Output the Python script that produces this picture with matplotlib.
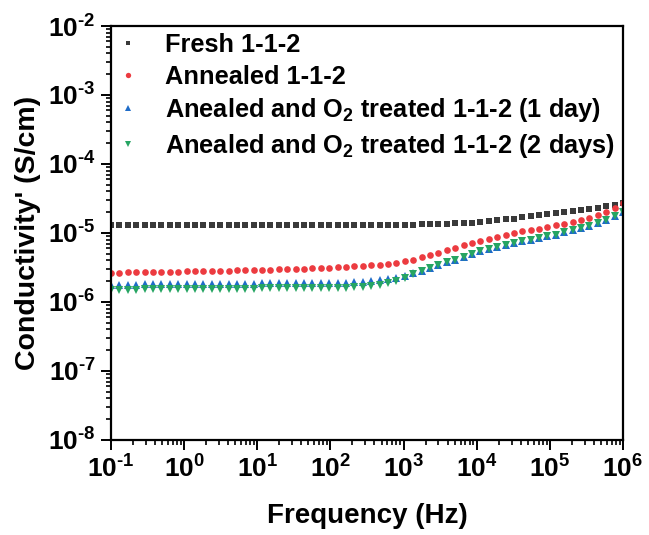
import numpy as np
import matplotlib
matplotlib.use("Agg")
from matplotlib import pyplot as plt
from matplotlib.ticker import FuncFormatter

plt.rcParams['font.family'] = 'Liberation Sans'
plt.rcParams['font.weight'] = 'bold'
plt.rcParams['mathtext.fontset'] = 'custom'
plt.rcParams['mathtext.rm'] = 'Liberation Sans:bold'
plt.rcParams['mathtext.it'] = 'Liberation Sans:bold'
plt.rcParams['mathtext.bf'] = 'Liberation Sans:bold'
plt.rcParams['mathtext.default'] = 'regular'
plt.rcParams['axes.unicode_minus'] = False

# frequency sweep (Hz)
freq = [0.1, 0.1302, 0.1696, 0.2210, 0.2877, 0.3748, 0.4882, 0.6358, 0.8279,
        1.078, 1.404, 1.829, 2.382, 3.103, 4.042, 5.265, 6.858, 8.929,
        11.63, 15.15, 19.73, 25.69, 33.46, 43.59, 56.77, 73.95, 96.3,
        125.4, 163.4, 212.8, 277.1, 360.9, 470.0, 612.3, 797.4,
        1038, 1352, 1762, 2295, 2989, 3893, 5070, 6604, 8600,
        11200, 14590, 19000, 24750, 32230, 41980, 54670, 71210, 92740,
        120800, 157300, 204900, 266900, 347600, 452700, 589600, 767900, 1000000]

# log10 of conductivity (S/cm)
log_fresh = [-4.885] * 35 + [
    -4.880, -4.878, -4.875, -4.872, -4.868, -4.864, -4.860, -4.855, -4.850,
    -4.845, -4.830, -4.815, -4.800, -4.790, -4.775, -4.760, -4.745, -4.730,
    -4.715, -4.700, -4.685, -4.670, -4.655, -4.635, -4.615, -4.595, -4.565]

log_annealed = [
    -5.575, -5.574, -5.572, -5.570, -5.568, -5.566, -5.564, -5.562, -5.560,
    -5.558, -5.556, -5.553, -5.551, -5.548, -5.546, -5.543, -5.540, -5.537,
    -5.534, -5.531, -5.528, -5.524, -5.520, -5.516, -5.512, -5.507, -5.502,
    -5.497, -5.491, -5.485, -5.478, -5.470, -5.458, -5.443, -5.428,
    -5.408, -5.385, -5.355, -5.320, -5.283, -5.250, -5.218, -5.180, -5.150,
    -5.120, -5.090, -5.055, -5.030, -5.000, -4.978, -4.960, -4.935, -4.910,
    -4.885, -4.865, -4.840, -4.810, -4.785, -4.745, -4.690, -4.635, -4.560]

log_o2_1day = [
    -5.750, -5.749, -5.748, -5.747, -5.746, -5.745, -5.744, -5.743, -5.742,
    -5.741, -5.740, -5.739, -5.738, -5.737, -5.736, -5.735, -5.734, -5.733,
    -5.732, -5.731, -5.730, -5.729, -5.728, -5.727, -5.726, -5.725, -5.723,
    -5.721, -5.718, -5.714, -5.709, -5.701, -5.686, -5.670, -5.648,
    -5.618, -5.583, -5.545, -5.505, -5.460, -5.420, -5.385, -5.345, -5.305,
    -5.265, -5.225, -5.200, -5.170, -5.145, -5.120, -5.098, -5.075, -5.050,
    -5.023, -4.992, -4.960, -4.928, -4.893, -4.856, -4.810, -4.755, -4.700]

log_o2_2days = [
    -5.822, -5.821, -5.820, -5.819, -5.818, -5.817, -5.816, -5.815, -5.814,
    -5.813, -5.812, -5.811, -5.810, -5.809, -5.808, -5.807, -5.806, -5.805,
    -5.804, -5.803, -5.802, -5.801, -5.800, -5.799, -5.798, -5.797, -5.795,
    -5.793, -5.790, -5.786, -5.781, -5.773, -5.758, -5.730, -5.692,
    -5.646, -5.597, -5.545, -5.505, -5.460, -5.420, -5.385, -5.345, -5.305,
    -5.265, -5.225, -5.200, -5.170, -5.145, -5.120, -5.098, -5.075, -5.050,
    -5.023, -4.992, -4.960, -4.928, -4.893, -4.856, -4.810, -4.755, -4.700]

labels = ['Fresh 1-1-2', 'Annealed 1-1-2',
          'Anealed and O$_2$ treated 1-1-2 (1 day)',
          'Anealed and O$_2$ treated 1-1-2 (2 days)']
series = [log_fresh, log_annealed, log_o2_1day, log_o2_2days]
colors = ['#3a3a3a', '#ec3b40', '#1f6cc8', '#26a563']
markers = ['s', 'o', '^', 'v']
sizes = [4.2, 4.8, 5.8, 5.8]


def pow_label(v, pos):
    e = int(round(np.log10(v)))
    if e < 0:
        return r'$10^{\text{-}%d}$' % (-e)
    return r'$10^{%d}$' % e


fig = plt.figure(figsize=(6.49, 5.35), dpi=100)
ax = fig.add_axes([0.171, 0.1776, 0.789, 0.7738])

for vals, lab, c, m, ms in zip(series, labels, colors, markers, sizes):
    ax.plot(freq, 10 ** np.array(vals), linestyle='none', marker=m,
            color=c, markersize=ms, markeredgewidth=0, label=lab)

ax.set_xscale('log')
ax.set_yscale('log')
ax.set_xlim(1e-1, 1e6)
ax.set_ylim(1e-8, 1e-2)
ax.xaxis.set_major_formatter(FuncFormatter(pow_label))
ax.yaxis.set_major_formatter(FuncFormatter(pow_label))

for s in ax.spines.values():
    s.set_linewidth(1.6)
ax.tick_params(which='major', direction='out', length=7, width=1.4,
               labelsize=19, pad=4)
ax.tick_params(which='minor', direction='out', length=3.5, width=1.2)
ax.tick_params(top=False, right=False, which='both')

ax.set_xlabel('Frequency (Hz)', fontsize=20, fontweight='bold', labelpad=15)
ax.set_ylabel("Conductivity' (S/cm)", fontsize=20.5, fontweight='bold',
              labelpad=5)

leg = ax.legend(loc='upper left', bbox_to_anchor=(0.009, 0.983),
                frameon=False, fontsize=18.3, handlelength=1.0,
                handletextpad=0.95, borderpad=0, borderaxespad=0,
                labelspacing=0.3, numpoints=1, markerscale=0.8)

fig.savefig('out.png', dpi=100)
